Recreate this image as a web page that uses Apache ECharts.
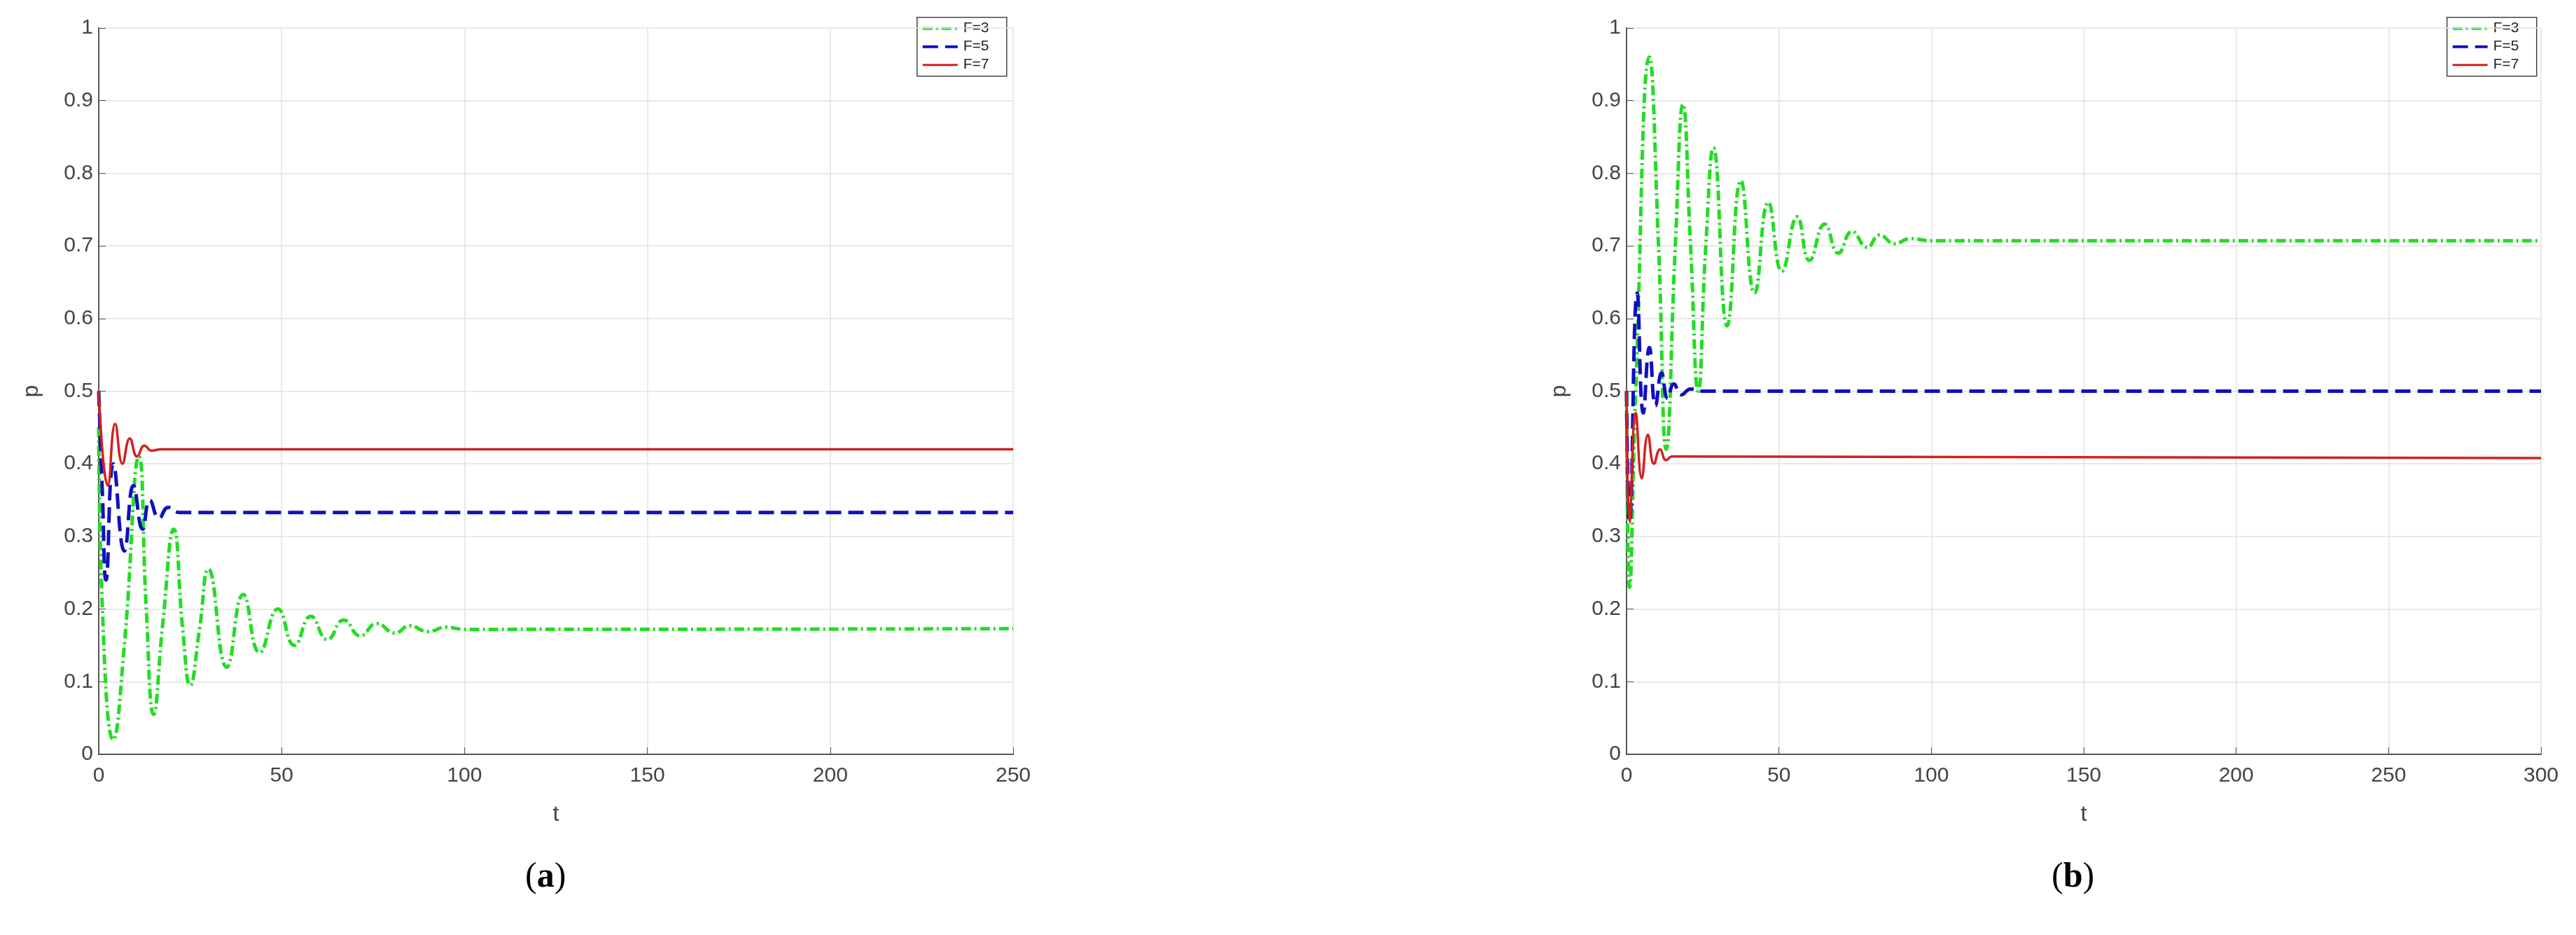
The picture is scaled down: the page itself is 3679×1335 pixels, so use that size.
<!DOCTYPE html><html><head><meta charset="utf-8"><script src="https://cdn.jsdelivr.net/npm/echarts@6/dist/echarts.min.js"></script>
<style>html,body{margin:0;background:#fff}#c{width:3679px;height:1335px}</style></head><body><div id="c"></div><script>
const aF3=[[0,0.45],[1,0.2],[4,0.02],[7,0.15],[11,0.41],[13,0.2],[15,0.055],[17.5,0.18],[20.5,0.31],[23,0.17],[25,0.095],[27.5,0.17],[30,0.255],[35,0.12],[39.5,0.22],[44,0.14],[49,0.2],[53.5,0.15],[58,0.19],[62.5,0.158],[67,0.185],[71.5,0.163],[76,0.18],[81,0.167],[85,0.177],[90,0.169],[95,0.175],[100,0.172],[250,0.173]];
const aF5=[[0,0.5],[1,0.36],[2,0.24],[4,0.4],[7,0.28],[9.5,0.37],[12,0.31],[14,0.35],[16.5,0.325],[19,0.34],[22,0.333],[250,0.333]];
const aF7=[[0,0.5],[2.5,0.37],[4.5,0.455],[6.5,0.4],[8.5,0.435],[10.5,0.41],[12.5,0.425],[14.5,0.418],[17,0.42],[250,0.42]];
const bF3=[[0,0.5],[1,0.23],[3,0.5],[7.5,0.96],[10.5,0.7],[13,0.42],[16,0.7],[18.5,0.895],[21,0.7],[23.5,0.5],[26,0.7],[28.5,0.835],[33,0.59],[37.5,0.79],[42,0.635],[46.5,0.76],[51,0.665],[56,0.74],[60,0.68],[65,0.73],[69.5,0.69],[74,0.72],[79,0.698],[83,0.715],[88,0.703],[93,0.71],[100,0.707],[300,0.707]];
const bF5=[[0,0.5],[1,0.32],[3.5,0.635],[5.5,0.47],[7.5,0.56],[9.5,0.48],[11.5,0.525],[13.5,0.49],[15.5,0.51],[18,0.495],[21,0.503],[25,0.5],[300,0.5]];
const bF7=[[0,0.5],[1,0.32],[3,0.47],[5,0.38],[7,0.44],[9,0.4],[11,0.42],[13,0.405],[15,0.41],[300,0.408]];
const names=['F=3','F=5','F=7'];
const cols=['#22dd22','#1010c0','#d42020'];
const styles=[[14,5,3,5],[22,10],'solid'];
const ax={axisLine:{show:true,onZero:false,lineStyle:{color:'#555',width:2}},axisTick:{show:true,inside:true,length:10,lineStyle:{color:'#555'}},splitLine:{show:true,lineStyle:{color:'#e2e2e2',width:1.5}},axisLabel:{color:'#444',fontSize:30,fontFamily:'Liberation Sans'}};
function xa(i,max){return Object.assign({},ax,{type:'value',gridIndex:i,min:0,max:max,interval:50,name:'t',nameLocation:'middle',nameGap:70,nameTextStyle:{color:'#444',fontSize:32,fontFamily:'Liberation Sans'},axisLabel:Object.assign({},ax.axisLabel,{margin:16})});}
function ya(i){return Object.assign({},ax,{type:'value',gridIndex:i,min:0,max:1,interval:0.1,name:'p',nameLocation:'middle',nameGap:80,nameTextStyle:{color:'#444',fontSize:32,fontFamily:'Liberation Sans'},axisLabel:Object.assign({},ax.axisLabel,{formatter:v=>String(+v.toFixed(1))})});}
const data=[[aF3,aF5,aF7],[bF3,bF5,bF7]];
const series=[];
data.forEach((d,g)=>d.forEach((s,k)=>series.push({type:'line',name:names[k],xAxisIndex:g,yAxisIndex:g,data:s,smooth:0.5,showSymbol:false,lineStyle:{color:cols[k],width:k==2?3.5:5,type:styles[k]},itemStyle:{color:cols[k]}})));
const legendBox=(x)=>({type:'group',left:x,top:24,children:[{type:'rect',shape:{width:128,height:84},style:{fill:'#fff',stroke:'#444',lineWidth:1.5}}].concat(names.map((n,k)=>[{type:'line',shape:{x1:8,y1:16+k*26,x2:58,y2:16+k*26},style:{stroke:cols[k],lineWidth:k==2?3:4,lineDash:k==2?null:styles[k]}},{type:'text',x:66,y:5+k*26,style:{text:n,fontSize:21,fill:'#222',fontFamily:'Liberation Sans'}}]).flat())});
const chart=echarts.init(document.getElementById('c'));
chart.setOption({backgroundColor:'#fff',animation:false,
grid:[{left:141,top:40,width:1306,bottom:258},{left:2323,top:40,width:1306,bottom:258}],
xAxis:[xa(0,250),xa(1,300)],yAxis:[ya(0),ya(1)],series,
graphic:[legendBox(1309),legendBox(3494),
{type:'text',left:750,top:1228,style:{rich:{n:{fontSize:50,fontFamily:'Liberation Serif',fill:'#000'},b:{fontSize:50,fontWeight:'bold',fontFamily:'Liberation Serif',fill:'#000'}},text:'{n|(}{b|a}{n|)}'}},
{type:'text',left:2930,top:1228,style:{rich:{n:{fontSize:50,fontFamily:'Liberation Serif',fill:'#000'},b:{fontSize:50,fontWeight:'bold',fontFamily:'Liberation Serif',fill:'#000'}},text:'{n|(}{b|b}{n|)}'}}]});
</script></body></html>
